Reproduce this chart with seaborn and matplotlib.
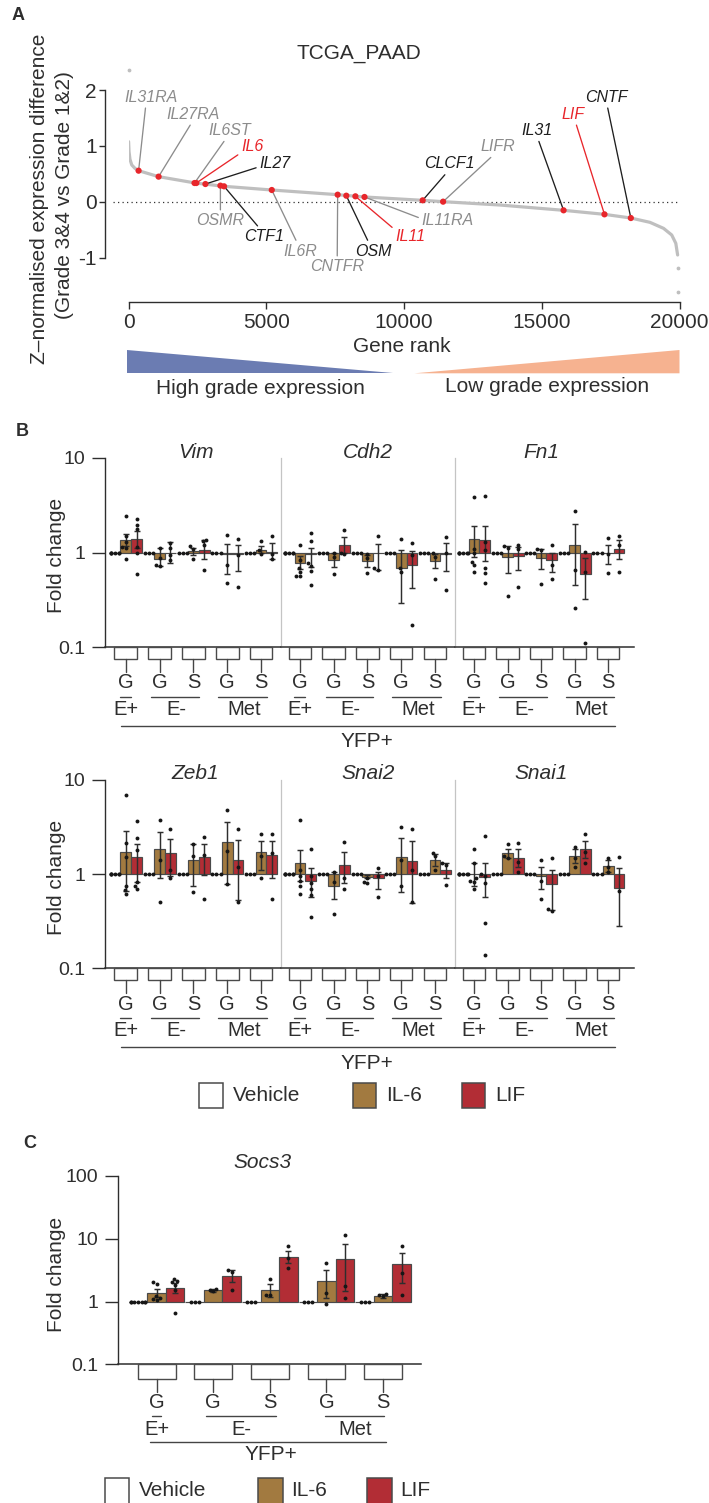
import warnings
import numpy as np
import pandas as pd
import matplotlib
matplotlib.use("Agg")
import matplotlib.pyplot as plt
import matplotlib.transforms as mtransforms
from matplotlib.patches import Rectangle, Polygon
from matplotlib.lines import Line2D
import seaborn as sns

warnings.filterwarnings("ignore")

W, H = 709, 1503

# ---------------- panel A: ranked expression difference ----------------
CURVE_RANK = [0, 16, 50, 115, 231, 363, 1089, 2426, 3465, 5198, 7590, 8564, 10676,
              11418, 13481, 15791, 17276, 18233, 18926, 19421, 19718, 19866, 19932]
CURVE_Z = [1.075, 0.896, 0.758, 0.657, 0.597, 0.555, 0.448, 0.334, 0.275, 0.209, 0.125,
           0.084, 0.024, 0.0, -0.06, -0.155, -0.227, -0.293, -0.37, -0.478, -0.597, -0.746, -0.955]
OUTLIER_RANK = [0, 19940, 19940]
OUTLIER_Z = [2.36, -1.19, -1.61]

GENES_A = ["IL31RA", "IL27RA", "IL6ST", "IL6", "IL27", "OSMR", "CTF1", "IL6R", "CNTFR",
           "OSM", "IL11", "IL11RA", "CLCF1", "LIFR", "IL31", "LIF", "CNTF"]
GENE_RANK = [363, 1089, 2393, 2459, 2789, 3333, 3465, 5198, 7590,
             7904, 8234, 8564, 10676, 11418, 15791, 17276, 18233]
GENE_Z = [0.555, 0.448, 0.334, 0.334, 0.316, 0.287, 0.275, 0.209, 0.125,
          0.107, 0.096, 0.084, 0.024, 0.0, -0.155, -0.227, -0.293]

# label placement (rank, z) and attachment point on the label box
LABEL_RANK = [825, 2343, 3663, 4488, 5313, 3333, 4900, 6220, 7573,
              8893, 10230, 11583, 11632, 13398, 14833, 16120, 17358]
LABEL_Z = [1.87, 1.564, 1.272, 0.985, 0.675, -0.34, -0.627, -0.884, -1.164,
           -0.884, -0.627, -0.34, 0.675, 0.985, 1.272, 1.564, 1.87]
LABEL_REL = [(0.4, 0.1), (0.5, 0.1), (0.45, 0.1), (0.05, 0.15), (0.05, 0.35), (0.5, 0.9),
             (0.45, 0.9), (0.45, 0.9), (0.5, 0.9), (0.4, 0.9), (0.05, 0.85), (0.02, 0.6),
             (0.5, 0.1), (0.45, 0.1), (0.5, 0.1), (0.6, 0.1), (0.5, 0.1)]

RED = "#e8262b"
GREY_LAB = "#8c8c8c"
BLACK_LAB = "#1e1e1e"
LABEL_COLOR = {"IL31RA": GREY_LAB, "IL27RA": GREY_LAB, "IL6ST": GREY_LAB, "IL6": RED,
               "IL27": BLACK_LAB, "OSMR": GREY_LAB, "CTF1": BLACK_LAB, "IL6R": GREY_LAB,
               "CNTFR": GREY_LAB, "OSM": BLACK_LAB, "IL11": RED, "IL11RA": GREY_LAB,
               "CLCF1": BLACK_LAB, "LIFR": GREY_LAB, "IL31": BLACK_LAB, "LIF": RED,
               "CNTF": BLACK_LAB}

# ---------------- panels B and C: fold change bars ----------------
GROUPS = ["E+ G", "E- G", "E- S", "Met G", "Met S"]
GROUP_TICK = ["G", "G", "S", "G", "S"]
CELLS = ["E+", "E-", "Met"]
CELL_SPANS = [(0, 0), (1, 2), (3, 4)]
TREATS = ["Vehicle", "IL-6", "LIF"]

VEH_N = {"Vim": [6, 3, 3, 3, 3], "Cdh2": [6, 3, 3, 3, 3], "Fn1": [6, 3, 3, 3, 3],
         "Zeb1": [6, 3, 3, 3, 3], "Snai2": [6, 3, 3, 3, 3], "Snai1": [6, 3, 3, 3, 3],
         "Socs3": [7, 3, 3, 3, 3]}

IL6_MEAN = {"Vim": [1.36, 0.86, 1.03, 0.96, 1.06],
            "Cdh2": [0.78, 0.84, 0.82, 0.68, 0.82],
            "Fn1": [1.38, 0.89, 0.87, 1.19, 0.99],
            "Zeb1": [1.72, 1.84, 1.43, 2.17, 1.70],
            "Snai2": [1.32, 0.75, 0.94, 1.53, 1.43],
            "Snai1": [1.0, 1.66, 0.96, 1.55, 1.22],
            "Socs3": [1.38, 1.51, 1.55, 2.10, 1.22]}
IL6_LO = {"Vim": [1.16, 0.72, 0.95, 0.59, 0.98],
          "Cdh2": [0.67, 0.71, 0.71, 0.29, 0.68],
          "Fn1": [0.89, 0.61, 0.67, 0.45, 0.75],
          "Zeb1": [0.67, 0.92, 0.75, 0.78, 1.12],
          "Snai2": [0.84, 0.55, 0.90, 0.65, 1.22],
          "Snai1": [0.75, 1.47, 0.69, 1.30, 1.06],
          "Socs3": [1.18, 1.42, 1.20, 1.14, 1.15]}
IL6_HI = {"Vim": [1.56, 1.11, 1.11, 1.23, 1.18],
          "Cdh2": [0.91, 1.0, 0.95, 1.07, 0.97],
          "Fn1": [1.92, 1.18, 1.08, 1.98, 1.21],
          "Zeb1": [2.88, 2.81, 2.11, 3.59, 2.26],
          "Snai2": [1.80, 1.06, 0.98, 2.45, 1.63],
          "Snai1": [1.30, 1.87, 1.18, 1.87, 1.43],
          "Socs3": [1.60, 1.60, 1.88, 3.14, 1.30]}
IL6_PTS = {"Vim": [[2.44, 1.48, 1.30, 1.14, 1.11, 0.86], [1.11, 0.88, 0.74, 0.72], [1.16, 1.10, 0.86],
                   [1.55, 0.74, 0.47], [1.33, 1.05, 0.97]],
           "Cdh2": [[1.20, 0.83, 0.68, 0.62, 0.57, 0.56], [1.0, 0.90, 0.59], [0.97, 0.88, 0.60],
                    [1.38, 0.68, 0.62], [0.98, 0.90, 0.52]],
           "Fn1": [[3.85, 1.10, 1.0, 0.80, 0.74, 0.62], [1.18, 1.12, 0.35], [1.08, 1.06, 0.46],
                   [2.76, 0.66, 0.26], [1.42, 0.97, 0.61]],
           "Zeb1": [[6.9, 2.15, 1.53, 0.75, 0.68, 0.62], [3.73, 1.41, 0.51], [2.11, 1.55, 0.65],
                    [4.77, 1.77, 0.78], [2.70, 1.55, 0.90]],
           "Snai2": [[3.73, 1.10, 0.95, 0.85, 0.75, 0.61], [1.06, 0.83, 0.38], [0.90, 0.83, 0.80],
                     [3.18, 1.43, 0.75], [1.68, 1.55, 1.12]],
           "Snai1": [[1.87, 1.30, 0.90, 0.85, 0.83, 0.70], [2.11, 1.57, 1.50], [1.41, 0.85, 0.54],
                     [1.95, 1.50, 1.20], [1.50, 1.20, 1.05]],
           "Socs3": [[2.05, 1.93, 1.22, 1.14, 1.05, 1.10], [1.60, 1.55, 1.45], [2.29, 1.29, 1.26],
                     [4.10, 1.37, 0.93], [1.34, 1.26, 1.22]]}

LIF_MEAN = {"Vim": [1.38, 1.0, 1.05, 0.96, 1.02],
            "Cdh2": [0.96, 1.21, 0.98, 0.73, 0.97],
            "Fn1": [1.34, 0.91, 0.84, 0.59, 1.09],
            "Zeb1": [1.53, 1.68, 1.53, 1.41, 1.59],
            "Snai2": [0.85, 1.25, 0.90, 1.37, 1.10],
            "Snai1": [0.94, 1.50, 0.78, 1.83, 0.72],
            "Socs3": [1.67, 2.52, 5.18, 4.76, 3.91]}
LIF_LO = {"Vim": [1.11, 0.78, 0.86, 0.64, 0.86],
          "Cdh2": [0.71, 1.0, 0.66, 0.42, 0.64],
          "Fn1": [0.82, 0.66, 0.62, 0.32, 0.86],
          "Zeb1": [0.83, 0.95, 0.97, 0.53, 0.92],
          "Snai2": [0.57, 0.80, 0.70, 0.49, 0.92],
          "Snai1": [0.57, 1.20, 0.42, 1.47, 0.28],
          "Socs3": [1.37, 2.03, 4.10, 1.46, 1.98]}
LIF_HI = {"Vim": [1.67, 1.28, 1.36, 1.19, 1.25],
          "Cdh2": [1.11, 1.45, 1.22, 1.04, 1.25],
          "Fn1": [1.92, 1.14, 1.0, 0.87, 1.37],
          "Zeb1": [2.11, 2.39, 2.11, 2.33, 2.26],
          "Snai2": [1.15, 1.72, 1.06, 2.26, 1.30],
          "Snai1": [1.30, 1.87, 1.12, 2.26, 1.15],
          "Socs3": [1.98, 3.14, 6.50, 8.20, 5.90]}
LIF_PTS = {"Vim": [[2.25, 1.95, 1.77, 1.14, 1.0, 0.59], [1.25, 1.11, 0.95, 0.84], [1.36, 1.31, 1.20, 0.66],
                   [1.39, 0.95, 0.43], [1.50, 0.97, 0.86]],
           "Cdh2": [[1.60, 1.31, 0.77, 0.72, 0.64, 0.45], [1.71, 1.0, 0.97], [1.48, 0.68, 0.66],
                    [1.25, 0.95, 0.17], [1.45, 0.98, 0.40]],
           "Fn1": [[3.97, 1.30, 1.05, 0.68, 0.60, 0.47], [1.21, 1.10, 0.43], [1.21, 0.74, 0.53],
                   [1.02, 0.62, 0.11], [1.50, 1.20, 0.62]],
           "Zeb1": [[3.68, 2.43, 1.80, 0.83, 0.75, 0.69], [3.05, 1.10, 0.92], [2.49, 1.60, 0.55],
                    [3.05, 1.20, 0.50], [2.70, 1.66, 0.55]],
           "Snai2": [[1.87, 0.95, 0.80, 0.69, 0.60, 0.35], [2.20, 0.90, 0.69], [1.15, 0.95, 0.57],
                     [3.05, 1.12, 0.50], [1.30, 1.25, 0.76]],
           "Snai1": [[2.53, 1.0, 0.95, 0.80, 0.30, 0.14], [2.15, 1.35, 1.06], [1.47, 0.43, 0.41],
                     [2.65, 1.72, 1.30], [1.53, 0.67]],
           "Socs3": [[2.29, 2.10, 2.03, 1.86, 1.55, 0.645], [3.14, 2.92, 1.55], [7.75, 4.93, 3.42],
                     [11.4, 1.79, 1.14], [7.64, 2.85, 1.26]]}

ROW1 = ["Vim", "Cdh2", "Fn1"]
ROW2 = ["Zeb1", "Snai2", "Snai1"]

IL6_COLOR = "#a27a40"
LIF_COLOR = "#b22d35"
PAL = {"Vehicle": "white", "IL-6": IL6_COLOR, "LIF": LIF_COLOR}
EDGE = "#4a4a4a"
INK = "#2e2e2e"

sns.set_style("ticks")
plt.rcParams["font.family"] = ["Liberation Sans", "DejaVu Sans"]
plt.rcParams["text.color"] = INK
plt.rcParams["axes.edgecolor"] = INK
plt.rcParams["xtick.color"] = INK
plt.rcParams["ytick.color"] = INK

fig = plt.figure(figsize=(W / 100, H / 100), dpi=100)


def fig_box(x0, y0, x1, y1):
    return [x0 / W, 1 - y1 / H, (x1 - x0) / W, (y1 - y0) / H]


def fx(px):
    return px / W


def fy(py):
    return 1 - py / H


def ptext(px, py, s, **kw):
    kw.setdefault("ha", "center")
    kw.setdefault("va", "center")
    kw.setdefault("fontsize", 15)
    return fig.text(fx(px), fy(py), s, **kw)


# ---------------- panel A ----------------
axA = fig.add_axes(fig_box(128.6, 90.0, 679.5, 257.5))
sns.lineplot(x=CURVE_RANK, y=CURVE_Z, color="#bfbfbf", lw=2.3, sort=False, ax=axA, zorder=2)
axA.scatter(OUTLIER_RANK, OUTLIER_Z, s=3, color="#bfbfbf", clip_on=False, zorder=2)
axA.hlines(0, -560, 20000, colors="#333333", linestyles=(0, (1, 2.6)), lw=0.9, clip_on=False, zorder=1)
sns.scatterplot(x=GENE_RANK, y=GENE_Z, color=RED, s=20, edgecolor="none", ax=axA, zorder=5)

for name, r, z, lr, lz, rel in zip(GENES_A, GENE_RANK, GENE_Z, LABEL_RANK, LABEL_Z, LABEL_REL):
    c = LABEL_COLOR[name]
    axA.annotate(name, xy=(r, z), xytext=(lr, lz), textcoords="data", ha="center", va="center",
                 fontsize=11.5, style="italic", color=c, annotation_clip=False,
                 arrowprops=dict(arrowstyle="-", color=c, lw=0.95, shrinkA=0, shrinkB=1.5, relpos=rel))

axA.set_xlim(0, 20000)
axA.set_ylim(-1, 2)
axA.set_xticks([0, 5000, 10000, 15000, 20000])
axA.set_yticks([-1, 0, 1, 2], ["-1", "0", "1", "2"])
axA.spines["top"].set_visible(False)
axA.spines["right"].set_visible(False)
axA.spines["left"].set_position(("outward", 17))
axA.spines["bottom"].set_position(("outward", 32))
for s in ["left", "bottom"]:
    axA.spines[s].set_linewidth(1.0)
axA.tick_params(axis="x", length=4.7, width=1.0, pad=3, labelsize=15)
axA.tick_params(axis="y", length=4.3, width=1.0, pad=1.5, labelsize=15)
axA.set_xlabel("")
axA.set_ylabel("")

ptext(18, 15, "A", fontsize=13, fontweight="bold")
ptext(358.6, 53.5, "TCGA_PAAD")
ptext(402, 346.7, "Gene rank")
ptext(40, 199, "Z–normalised expression difference", rotation=90)
ptext(65, 195, "(Grade 3&4 vs Grade 1&2)", rotation=90)

fig.add_artist(Polygon([(fx(127.3), fy(350)), (fx(127.3), fy(373.3)), (fx(393), fy(373.3))],
                       closed=True, transform=fig.transFigure, fc="#6b7cb2", ec="none"))
fig.add_artist(Polygon([(fx(414.5), fy(373.3)), (fx(679.5), fy(350)), (fx(679.5), fy(373.3))],
                       closed=True, transform=fig.transFigure, fc="#f6b290", ec="none"))
ptext(260, 388, "High grade expression")
ptext(546.6, 386, "Low grade expression")


# ---------------- bar panels ----------------
def section_tables(gene, bw):
    bar_rows, pt_rows, err_rows = [], [], []
    for g in range(len(GROUPS)):
        for t, treat in enumerate(TREATS):
            pos = g + (t - 1) * bw
            if treat == "Vehicle":
                mean, lo, hi, pts = 1.0, None, None, [1.0] * VEH_N[gene][g]
            elif treat == "IL-6":
                mean, lo, hi, pts = IL6_MEAN[gene][g], IL6_LO[gene][g], IL6_HI[gene][g], IL6_PTS[gene][g]
            else:
                mean, lo, hi, pts = LIF_MEAN[gene][g], LIF_LO[gene][g], LIF_HI[gene][g], LIF_PTS[gene][g]
            bar_rows.append({"pos": pos, "treat": treat, "logfc": np.log10(mean)})
            pt_rows += [{"pos": pos, "logfc": np.log10(v)} for v in pts]
            if lo is not None:
                m = np.log10(mean)
                err_rows.append({"pos": pos, "mid": m, "dn": m - np.log10(lo), "up": np.log10(hi) - m})
    return pd.DataFrame(bar_rows), pd.DataFrame(pt_rows), pd.DataFrame(err_rows)


def draw_section(ax, gene, bw, xlim, ylim, first, ticks, ticklabels):
    bars, pts, errs = section_tables(gene, bw)
    ax.set_xlim(*xlim)
    ax.set_ylim(*ylim)
    sns.barplot(data=bars, x="pos", y="logfc", hue="treat", hue_order=TREATS, palette=PAL,
                native_scale=True, width=1.0, errorbar=None, saturation=1,
                edgecolor=EDGE, linewidth=0.85, legend=False, ax=ax, zorder=2)
    ax.errorbar(errs["pos"], errs["mid"], yerr=[errs["dn"], errs["up"]], fmt="none",
                ecolor=INK, elinewidth=1.05, capsize=2.4, capthick=1.05, zorder=3)
    sns.swarmplot(data=pts, x="pos", y="logfc", native_scale=True, color="#161616",
                  size=2.8, warn_thresh=1, ax=ax, zorder=4)
    ax.set_xlim(*xlim)
    ax.set_ylim(*ylim)
    ax.set_xticks([])
    ax.set_xlabel("")
    ax.set_ylabel("")
    ax.spines["top"].set_visible(False)
    ax.spines["right"].set_visible(False)
    ax.spines["bottom"].set_linewidth(1.1)
    if first:
        ax.spines["left"].set_linewidth(1.0)
        ax.set_yticks(ticks, ticklabels)
        ax.tick_params(axis="y", length=9.7, width=1.0, pad=4, labelsize=14)
    else:
        ax.spines["left"].set_color("#c4c4c4")
        ax.spines["left"].set_linewidth(0.9)
        ax.tick_params(axis="y", left=False, labelleft=False)


def draw_keys(ax, base, box_h, line_end, g_off, u_off, e_off, box_w, unders):
    tr = mtransforms.blended_transform_factory(ax.transData, fig.transFigure)
    for g, lab in enumerate(GROUP_TICK):
        fig.add_artist(Rectangle((g - box_w / 2, fy(base + box_h)), box_w, box_h / H, transform=tr,
                                 fc="white", ec=EDGE, lw=1.0))
        fig.add_artist(Line2D([g, g], [fy(base + box_h), fy(base + line_end)], transform=tr,
                              color="#444444", lw=1.0))
        fig.text(g, fy(base + g_off), lab, transform=tr, ha="center", va="center", fontsize=14.5)
    for cell, (a, b), (lo, hi) in zip(CELLS, CELL_SPANS, unders):
        fig.add_artist(Line2D([a + lo, b + hi], [fy(base + u_off)] * 2, transform=tr,
                              color="#444444", lw=1.0))
        fig.text((a + b) / 2, fy(base + e_off), cell, transform=tr, ha="center", va="center",
                 fontsize=14.5)


SEC_X = [(104.5, 281), (281, 454.5), (454.5, 634)]
SEC_XLIM = [(-0.63, 4.59), (-0.56, 4.58), (-0.58, 4.77)]
TITLE_X = [195.5, 368, 541]
UNDER_B = [(-0.163, 0.163), (-0.24, 0.17), (-0.27, 0.17)]
BW_B = 0.32

ptext(22.7, 431.7, "B", fontsize=13, fontweight="bold")

for row, (top, bottom), title_y in zip([ROW1, ROW2], [(458, 647), (780, 968.3)], [452, 773.3]):
    for i, gene in enumerate(row):
        ax = fig.add_axes(fig_box(SEC_X[i][0], top, SEC_X[i][1], bottom))
        draw_section(ax, gene, BW_B, SEC_XLIM[i], (-1, 1), i == 0, [-1, 0, 1], ["0.1", "1", "10"])
        draw_keys(ax, bottom, 12, 25, 36, 50, 62.5, 0.67, UNDER_B)
        ptext(TITLE_X[i], title_y, gene, style="italic")
    ptext(56.8, (top + bottom) / 2 + 3, "Fold change", rotation=90)
    fig.add_artist(Line2D([fx(120.5), fx(614.5)], [fy(bottom + 79)] * 2, transform=fig.transFigure,
                          color="#444444", lw=1.0))
    ptext(367, bottom + 95, "YFP+")


def legend_row(y0, y1, boxes, text_x):
    for (x0, x1), tx, treat in zip(boxes, text_x, TREATS):
        fig.add_artist(Rectangle((fx(x0), fy(y1)), (x1 - x0) / W, (y1 - y0) / H,
                                 transform=fig.transFigure, fc=PAL[treat], ec=EDGE, lw=1.1))
        ptext(tx, (y0 + y1) / 2, treat, ha="left")


legend_row(1083, 1108, [(199, 223), (353, 376.5), (462, 485.5)], [233, 386, 495])

# ---------------- panel C ----------------
ptext(29.5, 1143, "C", fontsize=13, fontweight="bold")
axC = fig.add_axes(fig_box(117.5, 1176, 420.5, 1364.3))
draw_section(axC, "Socs3", 0.327, (-0.69, 4.66), (-1, 2), True, [-1, 0, 1, 2], ["0.1", "1", "10", "100"])
draw_keys(axC, 1364.3, 15, 28, 38, 52, 65, 0.67, [(-0.08, 0.08), (-0.13, 0.115), (-0.03, 0.02)])
ptext(262.7, 1163, "Socs3", style="italic")
ptext(57, 1274, "Fold change", rotation=90)
fig.add_artist(Line2D([fx(150), fx(385.5)], [fy(1442)] * 2, transform=fig.transFigure,
                      color="#444444", lw=1.0))
ptext(271, 1455, "YFP+")
legend_row(1478, 1504, [(104.5, 128.6), (258, 283), (367, 392)], [138.6, 291, 400])

fig.savefig("out.png", dpi=100)
